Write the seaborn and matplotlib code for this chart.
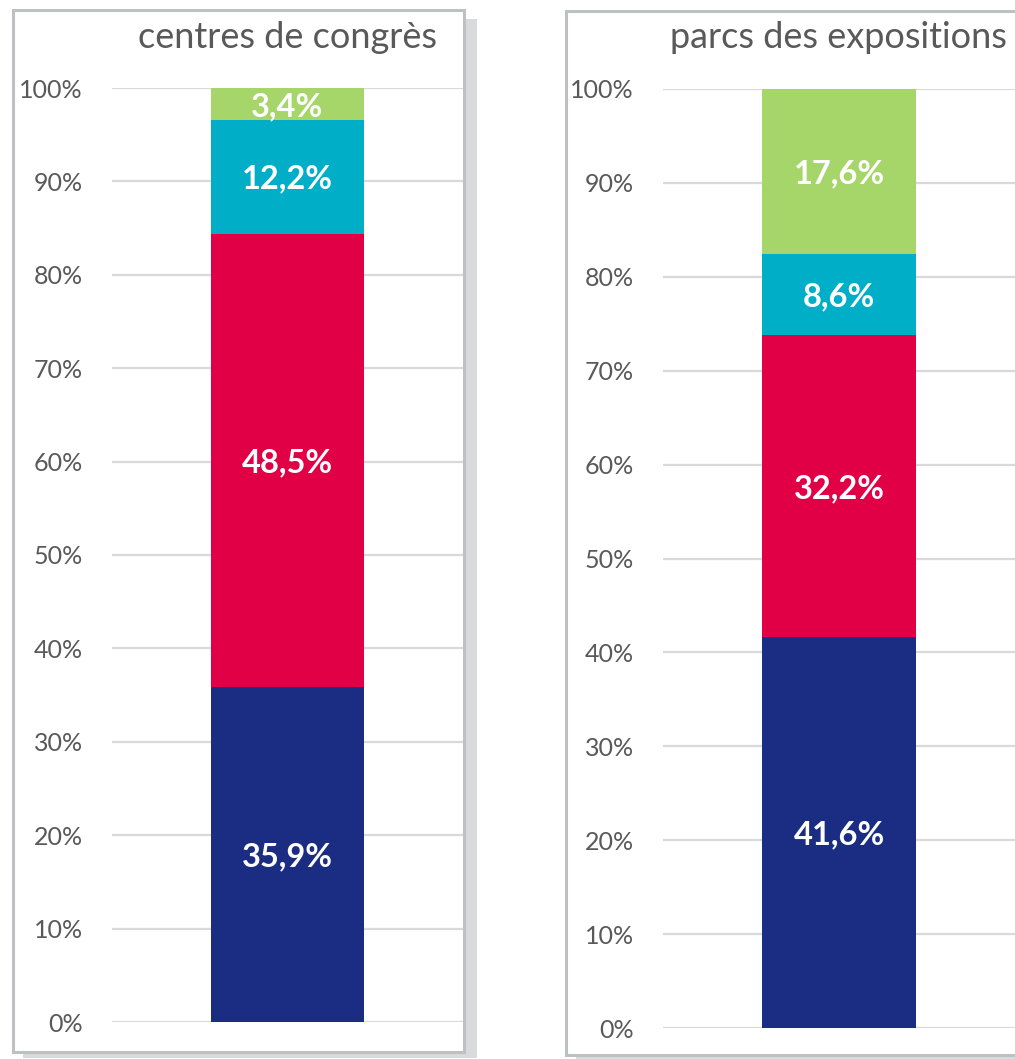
import matplotlib
matplotlib.use("Agg")
import matplotlib.pyplot as plt
import seaborn as sns
import pandas as pd
from matplotlib.patches import Rectangle

# data
panel_titles = ["centres de congrès", "parcs des expositions"]
segments = ["bleu", "rouge", "cyan", "vert"]
congres_values = [35.9, 48.5, 12.2, 3.4]
expo_values = [41.6, 32.2, 8.6, 17.6]
segment_colors = ["#1B2D83", "#E10046", "#00AEC7", "#A6D66A"]
y_ticks = list(range(0, 101, 10))

W, H = 1015, 1059
sns.set_theme(style="white")
plt.rcParams["font.family"] = ["Lato", "DejaVu Sans"]

fig = plt.figure(figsize=(W / 100, H / 100), dpi=100)


def fx(x):
    return x / W


def fy(y):
    return 1 - y / H


def panel_box(x0, y0, x1, y1, shadow=True):
    if shadow:
        fig.patches.append(Rectangle((fx(x0 + 10), fy(y1 + 6)), fx(x1 - x0 + 3), (y1 - y0 - 3) / H,
                                     transform=fig.transFigure, facecolor="#D9DADC",
                                     edgecolor="none", zorder=0))
    fig.patches.append(Rectangle((fx(x0), fy(y1)), fx(x1 - x0), (y1 - y0) / H,
                                 transform=fig.transFigure, facecolor="white",
                                 edgecolor="#BFC0C2", linewidth=2.2, zorder=1))


def stacked_panel(rect_px, values, title, title_xy):
    x0, y_top, x1, y_zero = rect_px
    ax = fig.add_axes([fx(x0), fy(y_zero), fx(x1 - x0), (y_zero - y_top) / H])
    ax.set_zorder(2)
    ax.patch.set_alpha(0)
    df = pd.DataFrame({"cat": ["x"] * len(values), "seg": segments, "val": values})
    bottom = 0
    for i, row in df.iterrows():
        sns.barplot(x=[row["cat"]], y=[row["val"]], bottom=bottom, color=segment_colors[i],
                    width=0.436, saturation=1, linewidth=0, ax=ax, zorder=3)
        ax.text(0, bottom + row["val"] / 2, f"{row['val']:.1f}%".replace(".", ","),
                ha="center", va="center_baseline", color="white", fontsize=23.5,
                fontweight="bold", zorder=4, clip_on=False)
        bottom += row["val"]
    ax.set_xlim(-0.5, 0.5)
    ax.set_ylim(0, 100)
    ax.set_yticks(y_ticks)
    ax.set_yticklabels([f"{t}%" for t in y_ticks])
    ax.tick_params(axis="y", length=0, pad=21, labelsize=18, labelcolor="#595959")
    ax.set_xticks([])
    ax.set_xlabel("")
    ax.set_ylabel("")
    ax.grid(axis="y", color="#D9D9D9", linewidth=1.6, zorder=0)
    ax.set_axisbelow(True)
    for s in ax.spines.values():
        s.set_visible(False)
    fig.text(fx(title_xy[0]), fy(title_xy[1]), title, ha="center", va="center",
             fontsize=26, color="#595959")
    return ax


panel_box(13, 10, 464, 1052)
panel_box(566, 11, 1030, 1055)

stacked_panel((112, 88, 463, 1022), congres_values, panel_titles[0], (288, 37))
stacked_panel((663, 89, 1015, 1028), expo_values, panel_titles[1], (838, 37))

fig.savefig("out.png", dpi=100, facecolor="white")
